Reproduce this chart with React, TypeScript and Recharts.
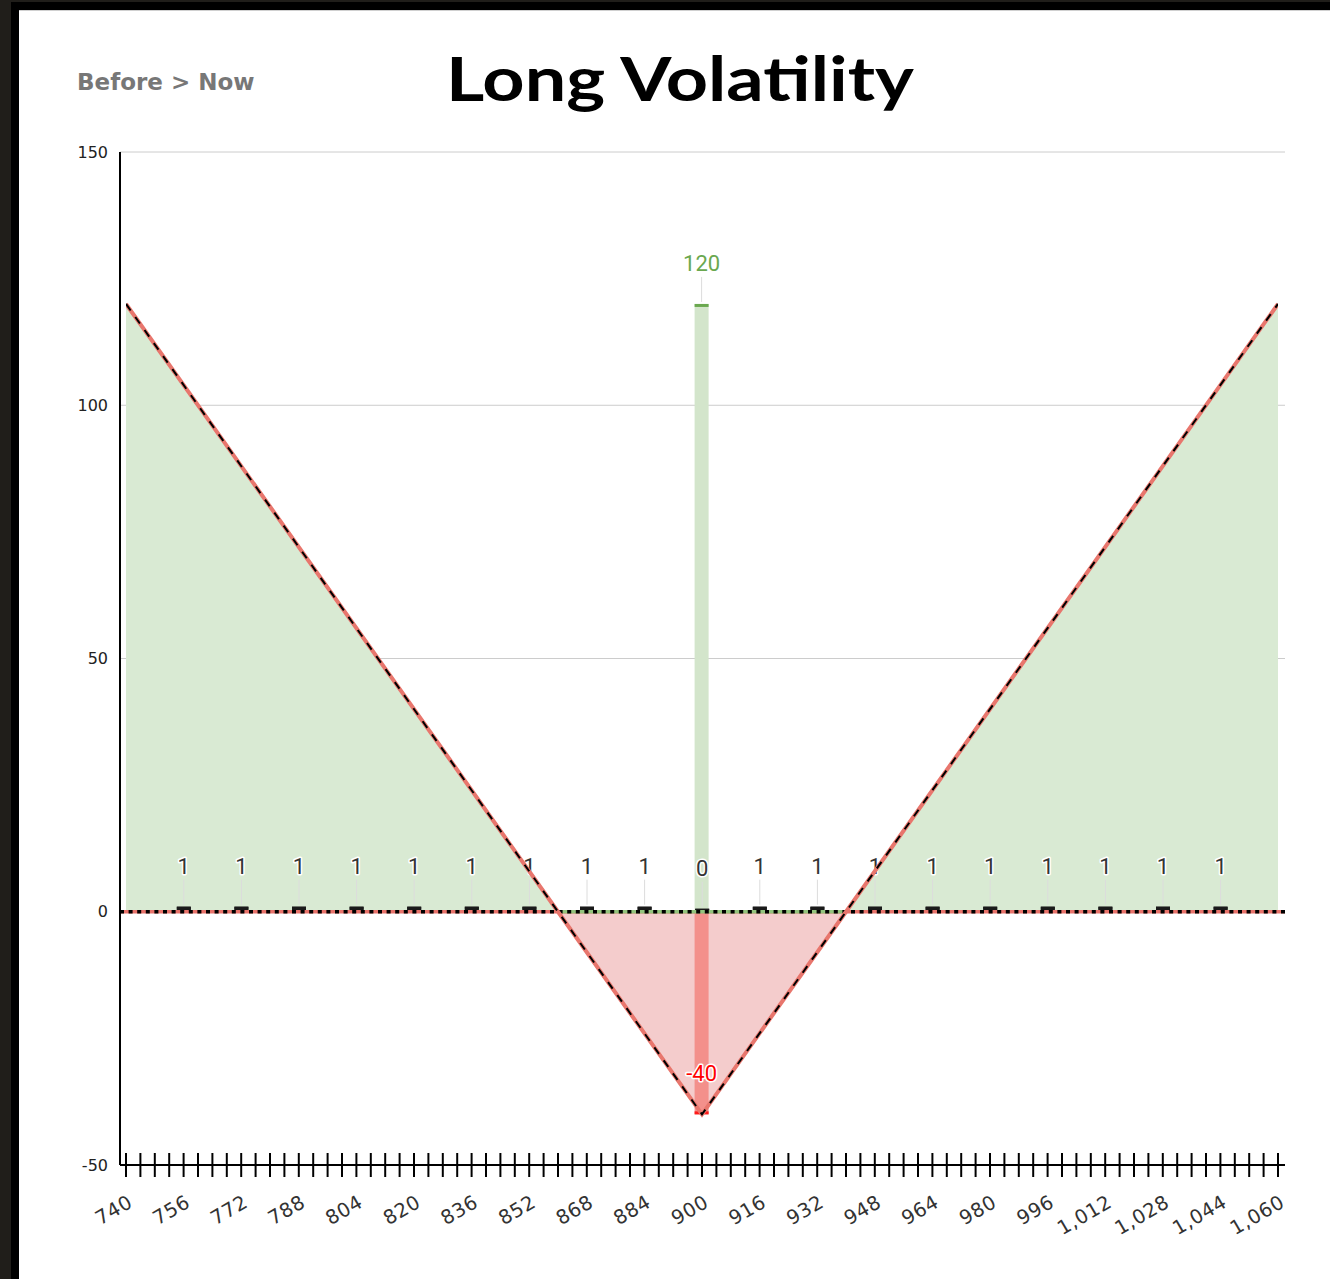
import React from 'react';
import {
  ComposedChart,
  Area,
  Line,
  Bar,
  XAxis,
  YAxis,
  CartesianGrid,
  ReferenceLine,
} from 'recharts';

// ---- data ----
const payoffPrices = [740, 860, 900, 940, 1060];
const payoffValues = [120, 0, -40, 0, 120];

const markerPrices = [756, 772, 788, 804, 820, 836, 852, 868, 884, 900, 916, 932, 948, 964, 980, 996, 1012, 1028, 1044];
const markerValues = [1, 1, 1, 1, 1, 1, 1, 1, 1, 0, 1, 1, 1, 1, 1, 1, 1, 1, 1];

const peakPrices = [900];
const peakGains = [120];
const peakLosses = [-40];

const xLabelTicks = [740, 756, 772, 788, 804, 820, 836, 852, 868, 884, 900, 916, 932, 948, 964, 980, 996, 1012, 1028, 1044, 1060];
const yTicks = [-50, 0, 50, 100, 150];

// tick marks every 4 points between labelled ticks
const xMinorTicks: number[] = [];
for (let v = 740; v <= 1060; v += 4) xMinorTicks.push(v);

// ---- derived tables ----
const payoffRows = payoffPrices.map((x, i) => ({ x, payoff: payoffValues[i] }));
const gainRows = payoffPrices.map((x, i) => ({ x, gain: Math.max(payoffValues[i], 0) }));
const lossRows = payoffPrices.map((x, i) => ({ x, loss: Math.min(payoffValues[i], 0) }));
const barRows = markerPrices.map((x, i) => {
  const pi = peakPrices.indexOf(x);
  return {
    x,
    tick: markerValues[i],
    up: pi >= 0 ? peakGains[pi] : null,
    down: pi >= 0 ? peakLosses[pi] : null,
  };
});
const zeroCross = payoffPrices.filter((_, i) => payoffValues[i] === 0);

const XTick = (props: any) => {
  const { x, y, payload } = props;
  const v = payload.value;
  const showLabel = xLabelTicks.includes(v);
  const ax = x + 8;
  const ay = y + 41;
  return (
    <g>
      <line x1={x} x2={x} y1={y - 12} y2={y + 12} stroke="#000" strokeWidth={2} />
      {showLabel && (
        <text
          x={ax}
          y={ay}
          textAnchor="end"
          fontFamily="DejaVu Sans"
          fontSize={19.5}
          letterSpacing={0.6}
          fill="#333"
          transform={`rotate(-30, ${ax}, ${ay})`}
        >
          {v.toLocaleString('en-US')}
        </text>
      )}
    </g>
  );
};

const makeShape = (key: string, body: string, cap: string, capTop: boolean, labelColor: string, leader: boolean) =>
  (props: any) => {
    const { x, y, width, height, payload } = props;
    const v = payload ? payload[key] : null;
    if (v === null || v === undefined) return <g />;
    const top = Math.min(y, y + height);
    const h = Math.abs(height);
    const end = capTop ? top : top + h;
    const capY = capTop ? (h >= 3 ? top : end - 3) : end - 3;
    const cx = x + width / 2;
    return (
      <g>
        {h > 0 && <rect x={x} y={top} width={width} height={h} fill={body} />}
        <rect x={x} y={capY} width={width} height={3} fill={cap} />
        {leader && <line x1={cx} x2={cx} y1={end - 27} y2={end - 2} stroke="#dcdcdc" strokeWidth={1} />}
        <text
          x={cx}
          y={end - 33}
          textAnchor="middle"
          fontFamily="Roboto"
          fontSize={22}
          fill={labelColor}
          stroke="#fff"
          strokeWidth={3}
          paintOrder="stroke"
          strokeLinejoin="round"
        >
          {v}
        </text>
      </g>
    );
  };

const tickShape = makeShape('tick', '#1a1a1a', '#1a1a1a', true, '#333', true);
const upShape = makeShape('up', '#d3e5cb', '#6aa84f', true, '#6aa84f', true);
const downShape = makeShape('down', '#f3908b', '#ff1a1a', false, '#ff0000', false);

const xAxisCommon = {
  dataKey: 'x',
  type: 'number' as const,
  domain: [740, 1060],
  ticks: xMinorTicks,
  interval: 0 as const,
  padding: { left: 6, right: 7 },
  allowDataOverflow: true,
};

export default function App() {
  return (
    <div style={{ position: 'absolute', left: 0, top: 0, width: 1330, height: 1279, background: '#201e1a', overflow: 'hidden' }}>
      <div style={{ position: 'absolute', left: 11, top: 2, right: 0, bottom: 0, background: '#000' }} />
      <div style={{ position: 'absolute', left: 19, top: 10, right: 0, bottom: 0, background: '#fff', borderTop: '1px solid #d0d0d0' }} />
      <svg width={1330} height={150} style={{ position: 'absolute', left: 0, top: 0 }}>
        <text x={77} y={90} fontFamily="DejaVu Sans" fontWeight={700} fontSize={23} fill="#777">
          Before &gt; Now
        </text>
        <text
          x={446}
          y={101}
          fontFamily="Lato"
          fontWeight={700}
          fontSize={62}
          fill="#000"
          textLength={468}
          lengthAdjust="spacingAndGlyphs"
        >
          Long Volatility
        </text>
      </svg>
      <div style={{ position: 'absolute', left: 0, top: 0 }}>
        <ComposedChart
          width={1330}
          height={1279}
          data={barRows}
          margin={{ top: 152, right: 45, bottom: 54, left: 20 }}
          stackOffset="sign"
        >
          <CartesianGrid xAxisId="main" vertical={false} stroke="#cccccc" strokeWidth={1} />
          <XAxis
            {...xAxisCommon}
            xAxisId="main"
            axisLine={{ stroke: '#000', strokeWidth: 2 }}
            tickLine={false}
            tickSize={0}
            tickMargin={0}
            tick={<XTick />}
            height={60}
          />
          <XAxis {...xAxisCommon} xAxisId="marks" hide />
          <YAxis
            type="number"
            domain={[-50, 150]}
            ticks={yTicks}
            interval={0}
            width={100}
            axisLine={{ stroke: '#000', strokeWidth: 2 }}
            tickLine={false}
            tickSize={0}
            tickMargin={12}
            tick={{ fontSize: 16, fill: '#222', fontFamily: 'DejaVu Sans' }}
            allowDataOverflow
          />
          <Area
            xAxisId="main"
            data={gainRows}
            dataKey="gain"
            type="linear"
            baseValue={0}
            fill="#d9ead3"
            fillOpacity={1}
            stroke="none"
            isAnimationActive={false}
            dot={false}
            activeDot={false}
          />
          <Area
            xAxisId="main"
            data={lossRows}
            dataKey="loss"
            type="linear"
            baseValue={0}
            fill="#f4cccc"
            fillOpacity={1}
            stroke="none"
            isAnimationActive={false}
            dot={false}
            activeDot={false}
          />
          <Bar xAxisId="main" dataKey="up" stackId="p" barSize={14} shape={upShape} isAnimationActive={false} />
          <Bar xAxisId="main" dataKey="down" stackId="p" barSize={14} shape={downShape} isAnimationActive={false} />
          <ReferenceLine xAxisId="main" y={0} stroke="#e8736b" strokeWidth={3.5} />
          <ReferenceLine
            xAxisId="main"
            segment={[{ x: zeroCross[0], y: 0 }, { x: zeroCross[1], y: 0 }]}
            stroke="#93c47d"
            strokeWidth={3.5}
          />
          <ReferenceLine xAxisId="main" y={0} stroke="#000" strokeWidth={3.5} strokeDasharray="4 4.6" />
          <Bar
            xAxisId="marks"
            dataKey="tick"
            barSize={14}
            minPointSize={3}
            shape={tickShape}
            isAnimationActive={false}
          />
          <Line
            xAxisId="main"
            data={payoffRows}
            dataKey="payoff"
            type="linear"
            stroke="#e8766d"
            strokeWidth={4}
            dot={false}
            activeDot={false}
            isAnimationActive={false}
          />
          <Line
            xAxisId="main"
            data={payoffRows}
            dataKey="payoff"
            type="linear"
            stroke="#000"
            strokeWidth={2}
            strokeDasharray="8 8"
            dot={false}
            activeDot={false}
            isAnimationActive={false}
          />
        </ComposedChart>
      </div>
    </div>
  );
}
